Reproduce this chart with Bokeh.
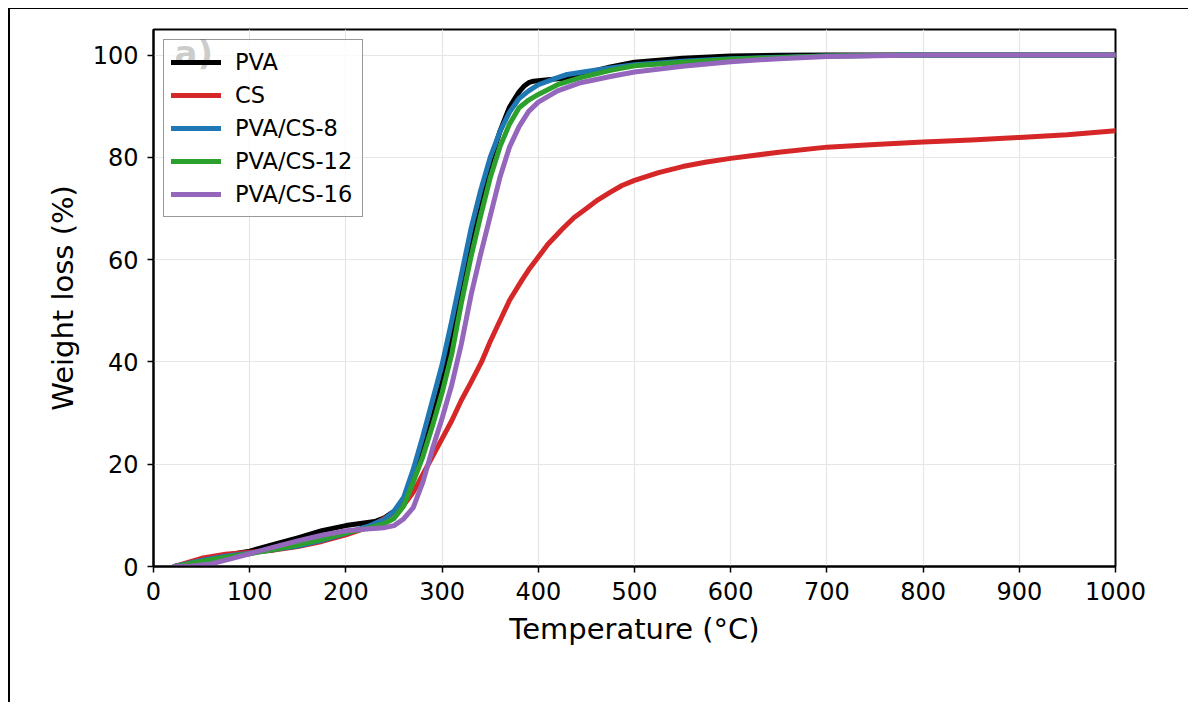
from bokeh.plotting import figure
from bokeh.models import Range1d, FixedTicker
from bokeh.core.properties import value
from bokeh.embed import file_html
from bokeh.resources import INLINE

# ---------------- data ----------------
pva_T = [22, 50, 75, 100, 125, 150, 175, 200, 215, 230, 240, 250, 260, 270, 280, 290,
         300, 310, 320, 330, 340, 350, 360, 370, 380, 385, 390, 395, 400, 410, 425, 440, 450,
         475, 500, 550, 600, 650, 700, 800, 900, 1000]
pva_W = [0, 1.2, 2.2, 3.0, 4.3, 5.6, 7.0, 8.0, 8.4, 8.8, 9.5, 10.8, 13.0, 17.0, 22.5, 29.0,
         36.0, 45.0, 54.0, 63.0, 72.0, 79.0, 85.0, 89.8, 92.8, 93.9, 94.6, 94.9, 95.0, 95.2, 95.4, 95.9, 96.5,
         97.7, 98.6, 99.4, 99.8, 99.95, 100, 100, 100, 100]

cs_T = [22, 50, 75, 100, 125, 150, 175, 200, 225, 250, 260, 270, 280, 290, 300, 310, 320,
        330, 341, 350, 360, 370, 383, 390, 400, 410, 425, 437, 450, 462, 475, 487, 500, 525,
        550, 575, 600, 650, 700, 750, 800, 850, 900, 950, 1000]
cs_W = [0, 1.6, 2.4, 2.8, 3.2, 3.9, 4.9, 6.2, 7.8, 10.5, 12.0, 14.5, 18.0, 21.5, 25.0, 28.5, 32.5,
        36.0, 40.0, 44.0, 48.0, 52.0, 56.0, 58.0, 60.5, 63.0, 66.0, 68.2, 70.0, 71.7, 73.2, 74.5, 75.5, 77.0,
        78.2, 79.1, 79.8, 81.0, 82.0, 82.5, 83.0, 83.4, 83.9, 84.4, 85.2]

cs8_T = [22, 50, 75, 100, 125, 150, 175, 200, 225, 240, 250, 260, 270, 280, 290, 300, 310,
         320, 330, 340, 350, 360, 370, 380, 390, 400, 420, 430, 450, 475, 500, 550, 600,
         700, 800, 900, 1000]
cs8_W = [0, 1.2, 2.0, 2.6, 3.3, 4.0, 5.1, 6.5, 8.0, 9.2, 10.8, 13.5, 19.0, 25.5, 32.5, 39.5, 48.0,
         57.0, 66.0, 73.5, 80.0, 85.0, 88.8, 91.5, 93.0, 94.2, 95.6, 96.2, 96.8, 97.5, 98.1, 98.8, 99.3,
         99.8, 100, 100, 100]

cs12_T = [22, 50, 75, 100, 125, 150, 175, 200, 225, 240, 250, 260, 270, 280, 290, 300, 310,
          320, 330, 340, 350, 360, 370, 380, 390, 400, 420, 444, 475, 500, 550, 600, 700,
          800, 900, 1000]
cs12_W = [0, 1.0, 1.8, 2.5, 3.3, 4.2, 5.3, 6.6, 7.6, 8.4, 9.4, 11.8, 16.5, 21.5, 27.5, 34.0, 41.5,
          51.5, 60.5, 68.5, 76.0, 82.0, 86.5, 89.7, 91.2, 92.3, 94.2, 95.6, 97.0, 97.9, 98.6, 99.2, 99.8,
          100, 100, 100]

cs16_T = [22, 40, 60, 80, 100, 125, 150, 175, 200, 225, 240, 250, 260, 270, 280, 290, 300,
          310, 320, 330, 340, 350, 360, 370, 380, 390, 400, 420, 444, 475, 500, 550, 600,
          650, 700, 800, 900, 1000]
cs16_W = [0, 0.1, 0.5, 1.5, 2.5, 3.8, 5.0, 6.1, 7.0, 7.4, 7.6, 8.0, 9.3, 11.5, 16.5, 23.0, 29.0,
          35.5, 43.5, 53.0, 61.0, 68.5, 76.0, 82.0, 86.0, 89.0, 90.8, 93.0, 94.6, 95.8, 96.7, 97.8, 98.7,
          99.3, 99.7, 100, 100, 100]

series_names = ["PVA", "CS", "PVA/CS-8", "PVA/CS-12", "PVA/CS-16"]
series_colors = ["#000000", "#d62728", "#1f77b4", "#2ca02c", "#9467bd"]

x_ticks = [0, 100, 200, 300, 400, 500, 600, 700, 800, 900, 1000]
y_ticks = [0, 20, 40, 60, 80, 100]

x_label = "Temperature (°C)"
y_label = "Weight loss (%)"
panel_tag = "a)"

# ---------------- figure ----------------
FONT = "DejaVu Sans"

p = figure(width=1180, height=694,
           x_range=Range1d(0, 1000), y_range=Range1d(0, 105),
           output_backend="svg", toolbar_location=None,
           min_border_left=143, min_border_right=75,
           min_border_top=20, min_border_bottom=137)
p.styles = {"border-top": "1px solid black", "border-left": "2px solid black",
            "margin-left": "8px", "margin-top": "8px"}

p.background_fill_color = "white"
p.border_fill_color = "white"
p.outline_line_color = "black"
p.outline_line_width = 2
p.outline_line_alpha = 1.0

p.grid.grid_line_color = "#e6e6e6"
p.grid.grid_line_width = 1.2

p.xaxis.ticker = FixedTicker(ticks=x_ticks)
p.yaxis.ticker = FixedTicker(ticks=y_ticks)

for ax in (p.xaxis, p.yaxis):
    ax.axis_line_color = "black"
    ax.axis_line_width = 2
    ax.major_tick_line_color = "black"
    ax.major_tick_line_width = 1.5
    ax.major_tick_out = 6
    ax.major_tick_in = 0
    ax.minor_tick_line_color = None
    ax.major_label_text_font = FONT
    ax.major_label_text_font_size = "24px"
    ax.major_label_text_color = "black"
    ax.axis_label_text_font = FONT
    ax.axis_label_text_font_size = "29px"
    ax.axis_label_text_font_style = "normal"
    ax.axis_label_text_color = "black"

p.xaxis.axis_label = x_label
p.yaxis.axis_label = y_label
p.xaxis.major_label_standoff = 9
p.yaxis.major_label_standoff = 9
p.xaxis.axis_label_standoff = 9
p.yaxis.axis_label_standoff = 10

# panel tag (drawn as glyph so the legend sits on top of it)
p.text(x=[21.8], y=[100.4], text=[panel_tag], text_font=value(FONT),
       text_font_style="bold", text_font_size="34px", text_color="black",
       text_baseline="alphabetic", text_align="left")

data = [(pva_T, pva_W), (cs_T, cs_W), (cs8_T, cs8_W), (cs12_T, cs12_W), (cs16_T, cs16_W)]
for (t, w), name, col in zip(data, series_names, series_colors):
    p.line(t, w, line_color=col, line_width=5, legend_label=name,
           line_join="round", line_cap="round")

lg = p.legend[0]
lg.location = "top_left"
lg.margin = 10
lg.padding = 7
lg.spacing = 3
lg.glyph_height = 30
lg.glyph_width = 50
lg.label_height = 30
lg.label_width = 120
lg.label_standoff = 14
lg.label_text_font = FONT
lg.label_text_font_size = "22.5px"
lg.label_text_color = "black"
lg.border_line_color = "#333333"
lg.border_line_width = 1.5
lg.background_fill_color = "white"
lg.background_fill_alpha = 0.8

open("out.html", "w").write(file_html(p, INLINE))
